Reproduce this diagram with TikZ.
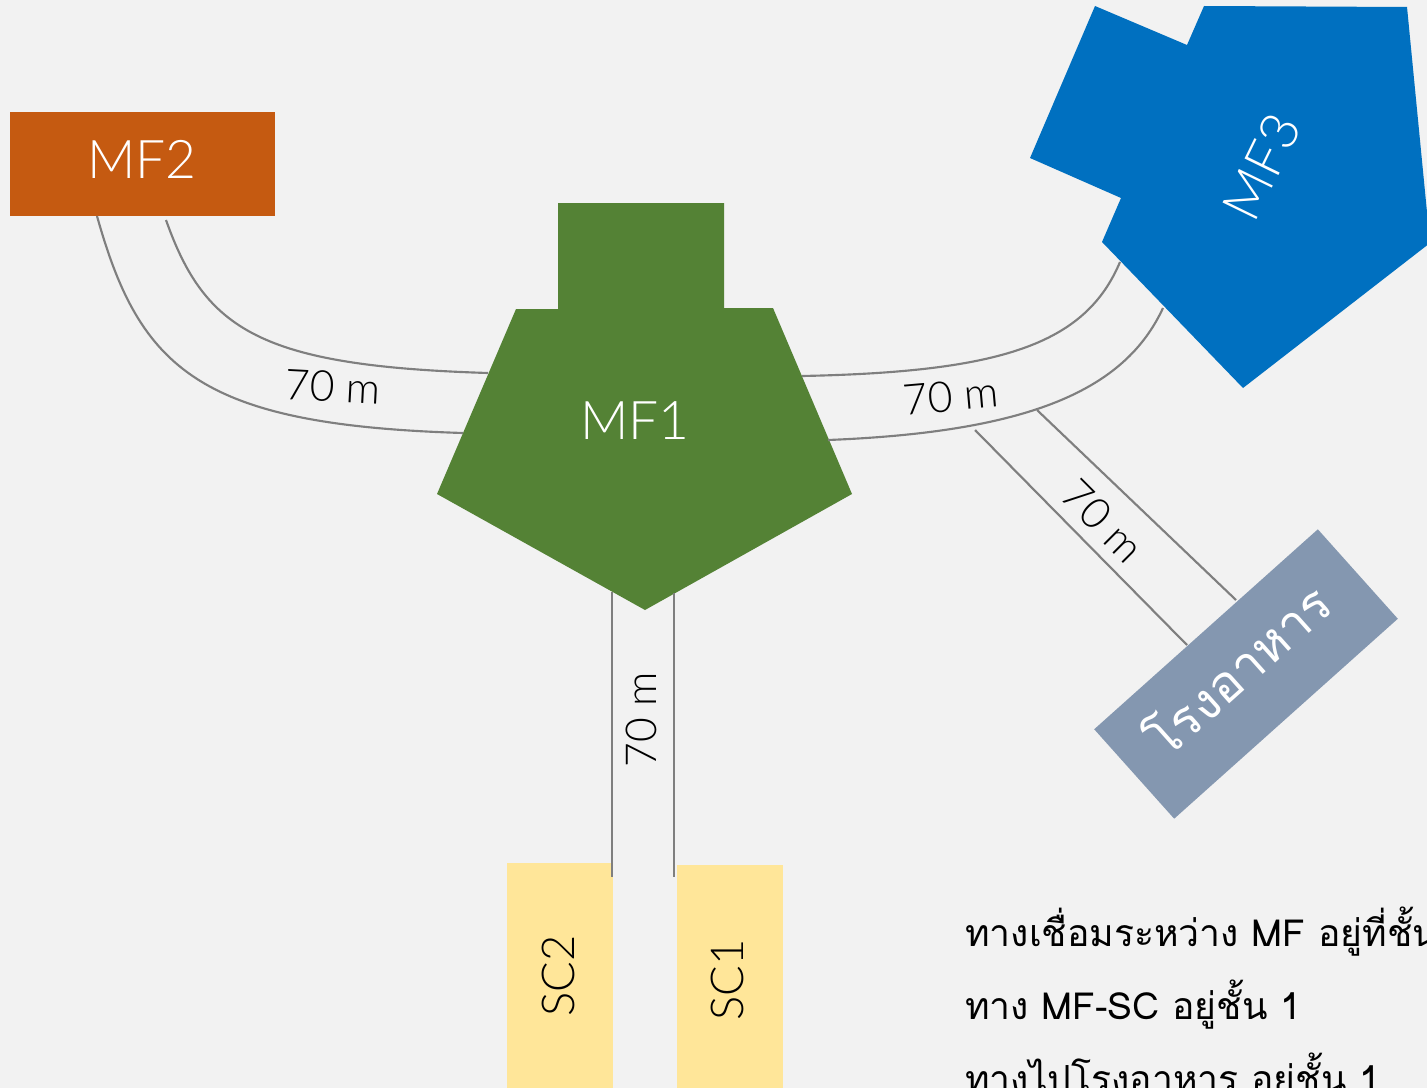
\documentclass[tikz,border=0pt]{standalone}
\usepackage{fontspec}
\setmainfont{Lato}[UprightFont={* Light}]
\newfontfamily\thaifont[Script=Thai]{Loma}
\usetikzlibrary{calc}
\definecolor{bgcol}{HTML}{F2F2F2}
\definecolor{mfgreen}{HTML}{548235}
\definecolor{mforange}{HTML}{C55A11}
\definecolor{mfblue}{HTML}{0070C0}
\definecolor{scyellow}{HTML}{FFE699}
\definecolor{canteencol}{HTML}{8497B0}
\definecolor{hallcol}{HTML}{7F7F7F}
\tikzset{
	hall/.style={draw=hallcol, line width=1.6pt},
	dist/.style={font=\fontsize{32}{38}\selectfont, inner sep=0pt},
	bldg/.style={text=white, font=\fontsize{40}{48}\selectfont, inner sep=0pt},
	scname/.style={font=\fontsize{34}{40}\selectfont, inner sep=0pt},
	note/.style={anchor=base west, inner sep=0pt, font=\thaifont\fontsize{28}{32}\selectfont},
}
\begin{document}
\begin{tikzpicture}[x=0.75pt,y=-0.75pt]
	\fill[bgcol] (0,0) rectangle (1427,1088);
	\useasboundingbox (0,0) rectangle (1427,1088);
	
	%buildings
	\fill[mforange] (10,112) rectangle (275,216);
	\node[bldg] (mf2) at (142,159) {MF2};
	
	\fill[mfgreen] (558,203) -- (724,203) -- (724,308) -- (773,308) -- (852,494)
		-- (645,610) -- (437,494) -- (516,309) -- (558,309) -- cycle;
	\node[bldg] (mf1) at (635,421) {MF1};
	
	\fill[mfblue] (1102,242) -- (1121,198) -- (1030,158) -- (1095,6) -- (1187,45)
		-- (1204,6) -- (1407,7) -- (1430,243) -- (1243,388) -- cycle;
	\node[bldg, rotate=64] (mf3) at (1262,167) {MF3};
	
	\fill[scyellow] (507,863) rectangle (613,1100);
	\fill[scyellow] (677,865) rectangle (783,1100);
	\node[scname, rotate=90] (sc2) at (558,976) {SC2};
	\node[scname, rotate=90] (sc1) at (727,980) {SC1};
	
	\node[fill=canteencol, rotate=41.8, minimum width=225pt, minimum height=90pt] (canteen) at (1246,674) {};
	\node[rotate=41.8, inner sep=0pt, text=white, font=\thaifont\fontsize{38}{44}\selectfont] (canteentxt) at (1236,668) {โรงอาหาร};
	
	%corridor ends
	\coordinate (w1) at (97,216);
	\coordinate (w2) at (166,220);
	\coordinate (w3) at (463,433);
	\coordinate (w4) at (488,373);
	\coordinate (e1) at (802,376);
	\coordinate (e2) at (828,440);
	\coordinate (e3) at (1120,262);
	\coordinate (e4) at (1163,308);
	\coordinate (k1) at (975,430);
	\coordinate (k2) at (1037,410);
	\coordinate (k3) at (1187,645);
	\coordinate (k4) at (1236,600);
	\coordinate (s1) at (612,592);
	\coordinate (s2) at (674,593);
	\coordinate (s3) at (612,877);
	\coordinate (s4) at (674,877);
	
	%corridors
	\draw[hall] (w1) .. controls (140,370) and (200,425) .. (w3);
	\draw[hall] (w2) .. controls (205,330) and (260,366) .. (w4);
	\draw[hall] (e1) .. controls (1000,372) and (1085,345) .. (e3);
	\draw[hall] (e2) .. controls (1030,432) and (1125,390) .. (e4);
	\draw[hall] (k1) -- (k3);
	\draw[hall] (k2) -- (k4);
	\draw[hall] (s1) -- (s3);
	\draw[hall] (s2) -- (s4);
	
	\node[dist, rotate=-3] (d12) at (333,387) {70 m};
	\node[dist, rotate=5] (d13) at (951,396) {70 m};
	\node[dist, rotate=-45] (dk) at (1103,521) {70 m};
	\node[dist, rotate=90] (ds) at (641,720) {70 m};
	
	%notes
	\node[note] (n1) at (965,946) {ทางเชื่อมระหว่าง MF อยู่ที่ชั้น};
	\node[note] (n2) at (965,1019) {ทาง MF-SC อยู่ชั้น 1};
	\node[note] (n3) at (965,1092) {ทางไปโรงอาหาร อยู่ชั้น 1};
\end{tikzpicture}
\end{document}
